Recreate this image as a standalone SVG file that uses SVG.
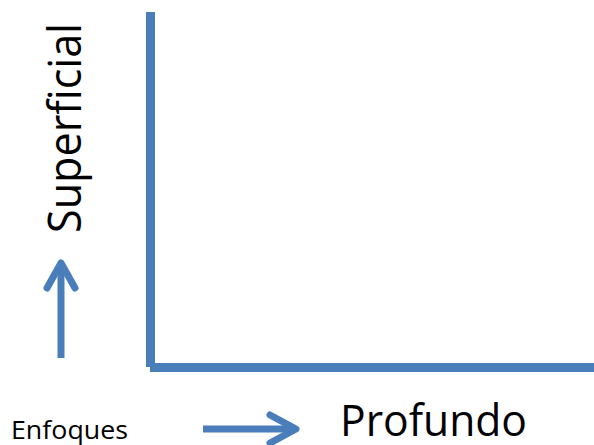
<svg xmlns="http://www.w3.org/2000/svg" width="594" height="445" viewBox="0 0 594 445">
  <style>
    .axis { stroke: #4a7ebb; stroke-width: 9; fill: none; }
    .arrow { stroke: #4a7ebb; stroke-width: 7; fill: none; stroke-linecap: round; stroke-linejoin: round; }
    .shaft { stroke: #4a7ebb; stroke-width: 7; fill: none; }
    .label { font-family: "Open Sans", "Liberation Sans", sans-serif; fill: #000; }
  </style>
  <rect width="594" height="445" fill="#fff"/>
  <g id="axes">
    <line class="axis" x1="150.5" y1="12" x2="150.5" y2="367"/>
    <line class="axis" x1="150" y1="367.5" x2="594" y2="367.5"/>
  </g>
  <g id="connectors">
    <g id="arrow-up">
      <line class="shaft" x1="61" y1="358" x2="61" y2="264"/>
      <polyline class="arrow" points="47,288 61,263 75,288"/>
    </g>
    <g id="arrow-right">
      <line class="shaft" x1="203" y1="429" x2="294" y2="429"/>
      <polyline class="arrow" points="270,415 296,429 270,443"/>
    </g>
  </g>
  <g id="label-superficial">
    <text class="label" font-size="46" transform="translate(81,233) rotate(-90)" textLength="210" lengthAdjust="spacingAndGlyphs">Superficial</text>
  </g>
  <g id="label-profundo">
    <text class="label" x="340" y="436" font-size="44" textLength="187" lengthAdjust="spacingAndGlyphs">Profundo</text>
  </g>
  <g id="label-enfoques">
    <text class="label" x="11" y="439" font-size="25" textLength="117" lengthAdjust="spacingAndGlyphs">Enfoques</text>
  </g>
</svg>
